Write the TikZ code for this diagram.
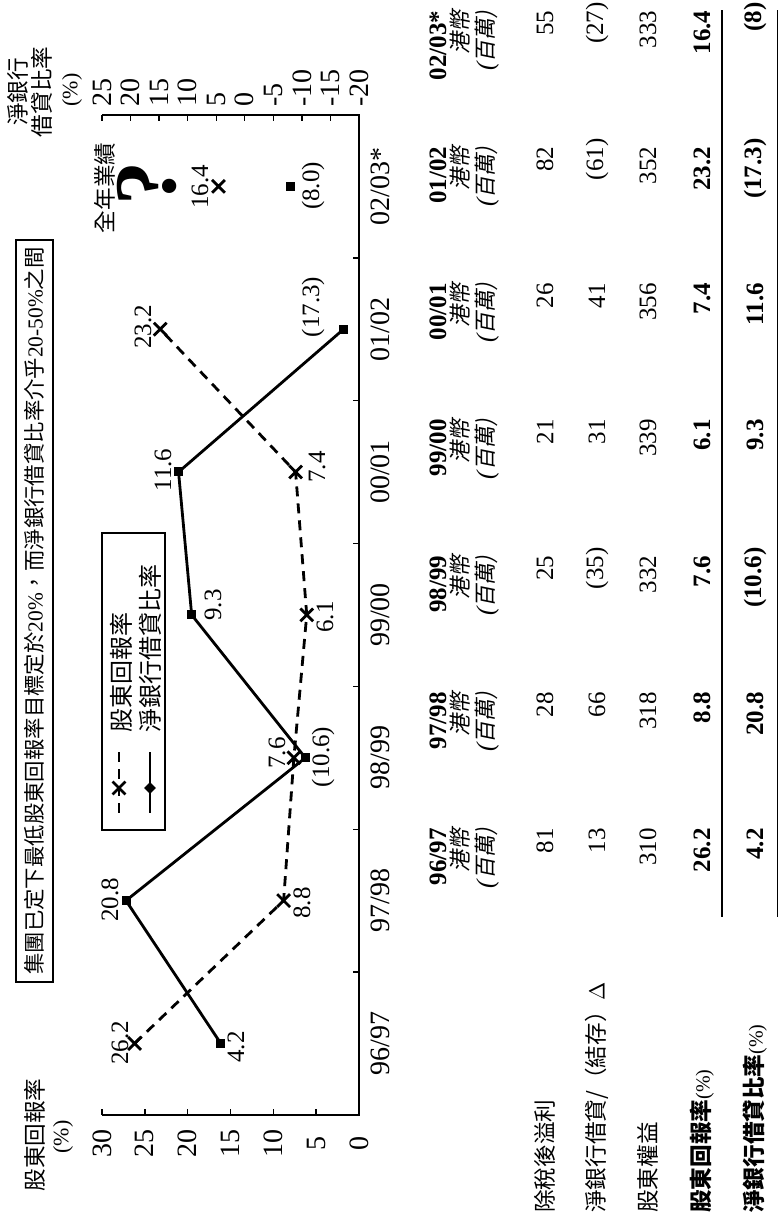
\documentclass[tikz,border=0pt]{standalone}
\usepackage{fontspec}
\setmainfont{Liberation Serif}
\newfontfamily\cjk{Noto Sans CJK TC}
\newfontfamily\cjkit{Noto Sans CJK TC}[FakeSlant=0.2]
\usetikzlibrary{shapes.geometric, shapes.misc}
\newcommand{\zh}{\cjk\fontsize{11.3}{13}\selectfont}
\newcommand{\negval}[1]{(#1\rlap{)}}
\tikzset{
  axis/.style={line width=0.7pt},
  frame/.style={line width=0.7pt},
  srline/.style={line width=1.4pt, dash pattern=on 5pt off 3.5pt},
  nrline/.style={line width=1.4pt},
  xmark/.style={cross out, draw, line width=1.4pt, minimum size=5pt, inner sep=0pt},
  sqmark/.style={rectangle, fill, minimum size=4.5pt, inner sep=0pt},
  dmark/.style={diamond, fill, minimum size=6pt, inner sep=0pt},
  ticklbl/.style={font=\fontsize{14}{16}\selectfont, inner sep=0pt},
  ptlbl/.style={font=\fontsize{12.5}{15}\selectfont, inner sep=0pt},
  cell/.style={anchor=east, font=\fontsize{12.5}{15}\selectfont, inner sep=0pt},
  rowlbl/.style={anchor=west, inner sep=0pt},
}

\begin{document}
\begin{tikzpicture}[x=0.5pt, y=0.5pt, rotate=90, transform shape]
  \useasboundingbox (0,0) rectangle (1223,779);
  % Target note
  \draw[frame] (241,726) rectangle (983,763);
  \node[font=\fontsize{10.7}{13}\selectfont] (note) at (612,744.5) {{\cjk 集團已定下最低股東回報率目標定於}20\%{\cjk ，而淨銀行借貸比率介乎}20-50\%{\cjk 之間}};
  % Axes
  \draw[axis] (108,677) -- (108,420) -- (1108,420) -- (1108,677);
  \foreach \v in {0,5,...,30} {
    \draw[axis] (108,420+8.567*\v) -- ++(6,0);
    \node[ticklbl] at (79,420+8.567*\v) {\v};
  }
  \foreach \v in {25,20,...,-20} {
    \draw[axis] (1108,534.2+5.711*\v) -- ++(-6,0);
    \node[ticklbl, anchor=west] at (1116,534.2+5.711*\v) {\v};
  }
  \foreach \j in {1,...,6} \draw[axis] (108+142.86*\j,420) -- ++(0,6);
  \foreach \yA/\yB [count=\k from 0] in {96/97, 97/98, 98/99, 99/00, 00/01, 01/02, 02/03*}
    \node[ticklbl] at (179.5+142.86*\k,399) {\yA/\yB};
  % Axis titles
  \node (srtitle) at (88,744) {\zh 股東回報率};
  \node[font=\fontsize{11}{13}\selectfont] at (86,716) {(\%)};
  \node[align=center] (nrtitle) at (1131,749) {\zh 淨銀行\\\zh 借貸比率};
  \node[font=\fontsize{11}{13}\selectfont] at (1133,707) {(\%)};
  % Shareholders' return (dashed)
  \coordinate (s1) at (179.5,420+8.567*26.2);
  \coordinate (s2) at (322.4,420+8.567*8.8);
  \coordinate (s3) at (465.2,420+8.567*7.6);
  \coordinate (s4) at (608.1,420+8.567*6.1);
  \coordinate (s5) at (751.0,420+8.567*7.4);
  \coordinate (s6) at (893.8,420+8.567*23.2);
  \coordinate (s7) at (1036.7,420+8.567*16.4);
  \draw[srline] (s1) -- (s2) -- (s3) -- (s4) -- (s5) -- (s6);
  % Net bank borrowings ratio (solid)
  \coordinate (n1) at (179.5,534.2+5.711*4.2);
  \coordinate (n2) at (322.4,534.2+5.711*20.8);
  \coordinate (n3) at (465.2,534.2-5.711*10.6);
  \coordinate (n4) at (608.1,534.2+5.711*9.3);
  \coordinate (n5) at (751.0,534.2+5.711*11.6);
  \coordinate (n6) at (893.8,534.2-5.711*17.3);
  \coordinate (n7) at (1036.7,534.2-5.711*8.0);
  \draw[nrline] (n1) -- (n2) -- (n3) -- (n4) -- (n5) -- (n6);
  \foreach \p in {s1,s2,s3,s4,s5,s6,s7} \node[xmark] at (\p) {};
  \foreach \p in {n1,n2,n3,n4,n5,n6,n7} \node[sqmark] at (\p) {};
  % Point labels
  \node[ptlbl] at (180,659) {26.2};
  \node[ptlbl] at (320,477) {8.8};
  \node[ptlbl] at (470,502) {7.6};
  \node[ptlbl] at (606,454) {6.1};
  \node[ptlbl] at (756,462) {7.4};
  \node[ptlbl] at (896,636) {23.2};
  \node[ptlbl] at (1036,579) {16.4};
  \node[ptlbl] at (176,543) {4.2};
  \node[ptlbl] at (323,669) {20.8};
  \node[ptlbl] at (466,456) {(10.6)};
  \node[ptlbl] at (618,566) {9.3};
  \node[ptlbl] at (753,616) {11.6};
  \node[ptlbl] at (916,466) {(17.3)};
  \node[ptlbl] at (1037,466) {(8.0)};
  % Full year
  \node[font=\bfseries\fontsize{44}{44}\selectfont, inner sep=0pt] (qmark) at (1039,632) {?};
  \node (fullyr) at (1035,674) {\zh 全年業績};
  % Legend
  \draw[frame] (393,614) rectangle (690,677);
  \coordinate (la) at (410,660);
  \coordinate (lb) at (471,660);
  \coordinate (lc) at (410,629);
  \coordinate (ld) at (471,629);
  \draw[srline] (la) -- (lb);
  \draw[nrline] (lc) -- (ld);
  \node[xmark] at (435,660) {};
  \node[dmark] at (435,629) {};
  \node[rowlbl] (lgsr) at (490,658) {\cjk\fontsize{12}{14}\selectfont 股東回報率};
  \node[rowlbl] (lgnr) at (490,629) {\cjk\fontsize{12}{14}\selectfont 淨銀行借貸比率};
  % Table
  \node[rowlbl] (r1) at (10,234) {\zh 除稅後溢利};
  \node[rowlbl] (r2) at (10,182) {{\zh 淨銀行借貸/（結存）}\fontsize{11}{13}\selectfont $\Delta$};
  \node[rowlbl] (r3) at (10,131) {\zh 股東權益};
  \node[rowlbl] (r4) at (10,77) {{\zh\bfseries 股東回報率}\fontsize{10}{12}\selectfont(\%)};
  \node[rowlbl] (r5) at (10,24) {{\zh\bfseries 淨銀行借貸比率}\fontsize{10}{12}\selectfont(\%)};
  \foreach \yA/\yB/\ra/\rb/\rc/\rd/\rf [count=\k from 0] in {
    96/97/81/13/310/26.2/4.2,
    97/98/28/66/318/8.8/20.8,
    98/99/25/\negval{35}/332/7.6/\negval{10.6},
    99/00/21/31/339/6.1/9.3,
    00/01/26/41/356/7.4/11.6,
    01/02/82/\negval{61}/352/23.2/\negval{17.3},
    02/03*/55/\negval{27}/333/16.4/\negval{8}} {
    \node[cell] at (395+136.3*\k,341) {\bfseries \yA/\yB};
    \node[cell] at (395+136.3*\k,319) {\cjkit\fontsize{11}{13}\selectfont 港幣};
    \node[cell] at (395+136.3*\k,292) {\itshape(\cjkit\fontsize{11}{13}\selectfont 百萬\itshape)};
    \node[cell] at (395+136.3*\k,234) {\ra};
    \node[cell] at (395+136.3*\k,182) {\rb};
    \node[cell] at (395+136.3*\k,131) {\rc};
    \node[cell] at (395+136.3*\k,77) {\bfseries \rd};
    \node[cell] at (395+136.3*\k,24) {\bfseries \rf};
  }
  \draw[frame] (306,57) -- (1213,57);
  \draw[frame] (306,1.5) -- (1213,1.5);
\end{tikzpicture}
\end{document}
